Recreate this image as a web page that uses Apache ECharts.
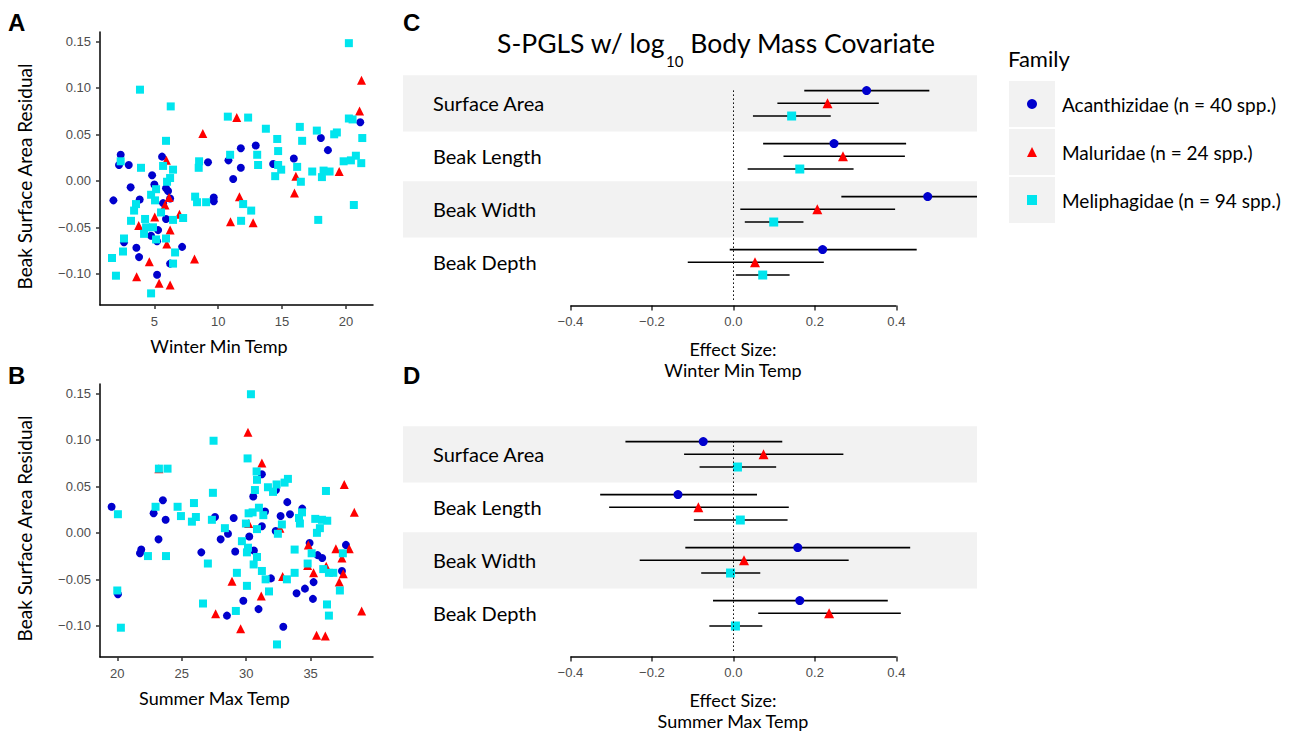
<!DOCTYPE html>
<html>
<head>
<meta charset="utf-8">
<script src="https://cdn.jsdelivr.net/npm/echarts@6/dist/echarts.min.js"></script>
<style>html,body{margin:0;padding:0;background:#fff}#chart{width:1293px;height:733px}</style>
</head>
<body>
<div id="chart"></div>
<script>
// ---------- DATA ----------
const families = ['Acanthizidae (n = 40 spp.)', 'Maluridae (n = 24 spp.)', 'Meliphagidae (n = 94 spp.)'];
const traits = ['Surface Area', 'Beak Length', 'Beak Width', 'Beak Depth'];
const scatterTicksY = [-0.10, -0.05, 0.00, 0.05, 0.10, 0.15];
const winterTicksX = [5, 10, 15, 20];
const summerTicksX = [20, 25, 30, 35];
const effectTicks = [-0.4, -0.2, 0.0, 0.2, 0.4];

// Panel A: winter min temp vs residual
const winterAca = [[2.36,0.028],[2.23,0.017],[2.99,0.017],[5.60,0.026],[4.82,0.006],[5.00,-0.004],[3.14,-0.007],[3.85,-0.020],[1.79,-0.021],[5.91,-0.008],[6.07,-0.011],[6.23,-0.019],[5.68,-0.024],[5.91,-0.041],[5.29,-0.053],[4.74,-0.059],[5.21,-0.065],[2.62,-0.066],[3.59,-0.072],[3.80,-0.082],[7.17,-0.071],[6.23,-0.089],[5.21,-0.101],[9.20,0.020],[9.65,-0.018],[9.65,-0.022],[10.80,0.022],[11.77,0.035],[11.77,0.014],[11.17,0.002],[12.94,0.038],[14.30,0.018],[15.92,0.024],[18.04,0.046],[18.59,0.033],[21.12,0.063]];
const winterMal = [[21.22,0.108],[21.07,0.075],[11.45,0.068],[8.79,0.051],[5.94,0.022],[6.15,-0.018],[5.83,-0.026],[6.96,-0.036],[5.03,-0.039],[3.77,-0.048],[6.23,-0.053],[5.97,-0.068],[4.60,-0.087],[8.14,-0.084],[3.61,-0.103],[5.37,-0.110],[6.23,-0.112],[11.66,-0.017],[10.96,-0.044],[12.73,-0.045],[15.97,-0.013],[16.08,0.005],[19.47,0.010]];
const winterMel = [[20.23,0.148],[3.87,0.098],[6.28,0.080],[5.91,0.043],[10.75,0.069],[12.34,0.068],[13.73,0.056],[16.39,0.058],[17.72,0.054],[19.29,0.052],[19.08,0.050],[20.23,0.067],[20.52,0.066],[21.28,0.046],[14.62,0.045],[16.57,0.043],[14.69,0.032],[10.93,0.028],[13.05,0.028],[13.12,0.017],[8.50,0.021],[8.47,0.014],[2.36,0.021],[3.95,0.014],[5.68,0.016],[6.46,0.012],[14.69,0.017],[14.93,0.012],[14.46,0.005],[16.18,0.015],[17.36,0.010],[18.25,0.011],[18.12,0.004],[18.72,0.010],[19.82,0.021],[20.39,0.022],[20.78,0.027],[21.20,0.019],[16.47,-0.001],[6.23,0.003],[5.99,-0.001],[5.13,-0.009],[4.74,-0.015],[5.05,-0.021],[8.19,-0.017],[8.34,-0.023],[9.05,-0.023],[11.95,-0.025],[12.58,-0.032],[3.56,-0.025],[3.41,-0.032],[5.52,-0.034],[6.46,-0.042],[7.25,-0.040],[4.27,-0.041],[3.17,-0.043],[4.35,-0.050],[4.89,-0.050],[4.19,-0.057],[5.13,-0.063],[5.91,-0.062],[2.62,-0.062],[2.54,-0.076],[6.62,-0.077],[6.46,-0.089],[1.68,-0.083],[1.99,-0.102],[4.74,-0.121],[11.79,-0.043],[17.83,-0.042],[20.62,-0.026]];

// Panel B: summer max temp vs residual
const summerAca = [[19.56,0.028],[20.05,-0.066],[21.86,-0.018],[21.76,-0.022],[22.82,0.021],[23.54,0.035],[23.75,0.014],[23.20,-0.007],[26.52,-0.021],[27.58,0.017],[28.02,-0.007],[28.59,-0.001],[29.03,0.016],[29.15,-0.020],[29.78,-0.073],[28.51,-0.089],[30.24,-0.004],[30.60,-0.019],[30.55,0.039],[31.22,0.063],[31.46,0.023],[31.22,0.007],[32.31,0.046],[32.29,0.002],[32.67,0.018],[33.40,0.020],[33.19,0.033],[34.35,0.026],[31.92,-0.049],[30.96,-0.082],[32.88,-0.101],[33.91,-0.065],[34.56,-0.060],[35.23,-0.053],[35.18,-0.071],[34.92,-0.011],[35.54,-0.024],[35.90,-0.027],[37.43,-0.041],[37.74,-0.013]];
const summerMal = [[30.14,0.108],[31.22,0.075],[23.23,0.069],[37.61,0.052],[38.39,0.022],[30.19,0.010],[32.62,0.005],[34.82,-0.013],[36.96,-0.017],[38.00,-0.017],[37.43,-0.027],[34.77,-0.035],[35.23,-0.043],[36.21,-0.036],[37.53,-0.044],[37.22,-0.053],[32.83,-0.047],[28.90,-0.052],[31.17,-0.068],[27.63,-0.087],[29.57,-0.103],[35.46,-0.110],[36.14,-0.111],[38.96,-0.084]];
const summerMel = [[30.37,0.149],[27.47,0.099],[30.11,0.080],[23.23,0.069],[23.90,0.069],[30.81,0.066],[30.84,0.057],[33.24,0.058],[32.98,0.054],[32.36,0.052],[31.69,0.049],[32.08,0.044],[30.68,0.046],[36.19,0.045],[27.42,0.043],[25.95,0.032],[22.97,0.028],[24.68,0.028],[24.94,0.018],[26.10,0.017],[25.79,0.012],[20.05,0.020],[27.34,0.014],[28.35,0.005],[30.19,0.021],[30.50,0.022],[30.99,0.027],[31.33,0.019],[29.98,0.010],[30.84,0.004],[32.46,-0.001],[32.77,0.009],[34.10,0.016],[34.33,0.022],[34.17,0.010],[35.36,0.015],[35.88,0.014],[36.29,0.013],[35.72,0.005],[35.49,0.000],[29.67,-0.009],[30.14,-0.016],[30.06,-0.021],[30.84,-0.026],[30.58,-0.034],[31.22,-0.041],[31.51,-0.050],[31.77,-0.063],[29.28,-0.043],[30.06,-0.057],[27.03,-0.033],[26.65,-0.076],[29.20,-0.084],[22.38,-0.025],[23.78,-0.025],[20.00,-0.062],[20.28,-0.102],[32.39,-0.120],[33.76,-0.018],[33.76,-0.043],[33.16,-0.050],[34.77,-0.033],[35.08,-0.022],[35.98,-0.039],[36.42,-0.043],[36.76,-0.043],[37.50,-0.022],[37.27,-0.062],[36.27,-0.077],[36.42,-0.089]];

// Panel C: effect sizes, winter min temp (order = traits)
const winterAcaEst = [0.327, 0.247, 0.477, 0.219];
const winterAcaLo  = [0.174, 0.073, 0.265, -0.009];
const winterAcaHi  = [0.481, 0.424, 0.689, 0.450];
const winterMalEst = [0.231, 0.269, 0.206, 0.053];
const winterMalLo  = [0.108, 0.123, 0.017, -0.112];
const winterMalHi  = [0.357, 0.421, 0.397, 0.222];
const winterMelEst = [0.143, 0.163, 0.099, 0.072];
const winterMelLo  = [0.048, 0.035, 0.028, 0.006];
const winterMelHi  = [0.239, 0.295, 0.172, 0.138];

// Panel D: effect sizes, summer max temp
const summerAcaEst = [-0.074, -0.136, 0.158, 0.163];
const summerAcaLo  = [-0.265, -0.327, -0.118, -0.050];
const summerAcaHi  = [0.120, 0.058, 0.434, 0.379];
const summerMalEst = [0.074, -0.086, 0.026, 0.235];
const summerMalLo  = [-0.121, -0.305, -0.230, 0.061];
const summerMalHi  = [0.270, 0.136, 0.283, 0.411];
const summerMelEst = [0.010, 0.017, -0.007, 0.005];
const summerMelLo  = [-0.083, -0.097, -0.079, -0.059];
const summerMelHi  = [0.105, 0.133, 0.066, 0.071];

// ---------- STYLE ----------
const colors = ['#0000CD', '#FF0000', '#00E5EE'];
const symbols = ['circle', 'triangle', 'rect'];
const scatterSizes = [8, 9, 8];
const forestSizes = [9, 10, 9];
const dodge = [0.24, 0, -0.24];
const TXT = 'Lato';
const TICKF = 'Liberation Sans';

const chart = echarts.init(document.getElementById('chart'), null, {renderer: 'svg'});

const tickLabel = {color: '#4d4d4d', fontFamily: TICKF, fontSize: 13};
const fmt2 = v => (v < -1e-9 ? '\u2212' : '') + Math.abs(v).toFixed(2);
const fmt1 = v => (v < -1e-9 ? '\u2212' : '') + Math.abs(v).toFixed(1);

function scatterX(grid, min, max, ticks, name, shift) {
  return {
    type: 'value', gridIndex: grid, min: min, max: max,
    axisLine: {show: true, onZero: false, lineStyle: {color: '#000', width: 1.5}},
    axisTick: {show: true, customValues: ticks, length: 4, lineStyle: {color: '#333', width: 1.5}},
    axisLabel: Object.assign({customValues: ticks, margin: 10}, tickLabel),
    splitLine: {show: false},
    name: name, nameLocation: 'middle', nameGap: 32,
    nameTextStyle: {fontFamily: TXT, fontSize: 18, color: '#000', padding: [0, shift, 0, 0]}
  };
}
function scatterY(grid) {
  return {
    type: 'value', gridIndex: grid, min: -0.1335, max: 0.160,
    axisLine: {show: true, onZero: false, lineStyle: {color: '#000', width: 1.5}},
    axisTick: {show: true, customValues: scatterTicksY, length: 4, lineStyle: {color: '#333', width: 1.5}},
    axisLabel: Object.assign({customValues: scatterTicksY, formatter: fmt2, margin: 9}, tickLabel),
    splitLine: {show: false},
    name: 'Beak Surface Area Residual', nameLocation: 'middle', nameGap: 66,
    nameTextStyle: {fontFamily: TXT, fontSize: 19, color: '#000', padding: [0, 16, 0, 0]}
  };
}
function effectX(grid, name) {
  return {
    type: 'value', gridIndex: grid, min: -0.811, max: 0.598,
    axisLine: {show: false, onZero: false},
    axisTick: {show: true, customValues: effectTicks, length: 5, lineStyle: {color: '#333', width: 1.5}},
    axisLabel: Object.assign({customValues: effectTicks, formatter: fmt1, margin: 9}, tickLabel),
    splitLine: {show: false},
    name: name, nameLocation: 'middle', nameGap: 33,
    nameTextStyle: {fontFamily: TXT, fontSize: 18, color: '#000', lineHeight: 21, padding: [0, 0, 0, 86]}
  };
}
function effectY(grid) {
  return {
    type: 'value', gridIndex: grid, min: 0.185, max: 4.6, z: 10,
    axisLine: {show: false, onZero: false}, axisTick: {show: false}, splitLine: {show: false},
    axisLabel: {
      customValues: [4, 3, 2, 1], formatter: v => traits[4 - Math.round(v)],
      inside: true, margin: 30, color: '#000', fontFamily: TXT, fontSize: 20, padding: [4, 0, 0, 0]
    }
  };
}

const series = [];
function addScatter(grid, sets) {
  sets.forEach((d, i) => {
    series.push({
      type: 'scatter', name: families[i], xAxisIndex: grid, yAxisIndex: grid,
      data: d, symbol: symbols[i], symbolSize: scatterSizes[i],
      itemStyle: {color: colors[i], opacity: 1}, z: 3 + i
    });
  });
}
addScatter(0, [winterAca, winterMal, winterMel]);
addScatter(1, [summerAca, summerMal, summerMel]);

function renderBar(params, api) {
  const lo = api.value(0), hi = api.value(1), y = api.value(2);
  const cs = params.coordSys;
  const p1 = api.coord([lo, y]), p2 = api.coord([hi, y]);
  const x1 = Math.max(p1[0], cs.x), x2 = Math.min(p2[0], cs.x + cs.width);
  return {type: 'line', shape: {x1: x1, y1: p1[1], x2: x2, y2: p2[1]},
          style: {stroke: '#000', lineWidth: 1.6}};
}

function addForest(grid, ests, los, his) {
  // frame: shaded rows, zero reference line, ranged axis line
  series.push({
    type: 'scatter', name: 'frame' + grid, xAxisIndex: grid, yAxisIndex: grid, data: [], silent: true, z: 1,
    markArea: {silent: true, itemStyle: {color: '#f2f2f2'},
      data: [[{yAxis: 3.47}, {yAxis: 4.53}], [{yAxis: 1.47}, {yAxis: 2.53}]]},
    markLine: {silent: true, symbol: ['none', 'none'], label: {show: false},
      data: [
        [{coord: [0, 0.29], lineStyle: {color: '#000', width: 1, type: [1.5, 2.5]}}, {coord: [0, 4.29]}],
        [{coord: [effectTicks[0], 0.185], lineStyle: {color: '#000', width: 1.6, type: 'solid'}}, {coord: [effectTicks[effectTicks.length - 1], 0.185]}]
      ]}
  });
  ests.forEach((est, i) => {
    const rowsY = [4, 3, 2, 1].map(r => r + dodge[i]);
    series.push({
      type: 'custom', name: families[i], xAxisIndex: grid, yAxisIndex: grid, z: 2,
      renderItem: renderBar, encode: {x: [0, 1], y: 2},
      data: los[i].map((lo, k) => [lo, his[i][k], rowsY[k]])
    });
    series.push({
      type: 'scatter', name: families[i], xAxisIndex: grid, yAxisIndex: grid, z: 3,
      symbol: symbols[i], symbolSize: forestSizes[i], itemStyle: {color: colors[i], opacity: 1},
      data: est.map((e, k) => [e, rowsY[k]])
    });
  });
}
addForest(2, [winterAcaEst, winterMalEst, winterMelEst], [winterAcaLo, winterMalLo, winterMelLo], [winterAcaHi, winterMalHi, winterMelHi]);
addForest(3, [summerAcaEst, summerMalEst, summerMelEst], [summerAcaLo, summerMalLo, summerMelLo], [summerAcaHi, summerMalHi, summerMelHi]);

const panelLabel = (t, l, tp) => ({text: t, left: l, top: tp, padding: 0,
  textStyle: {fontFamily: 'Liberation Sans', fontWeight: 'bold', fontSize: 24, color: '#000'}});

const option = {
  animation: false,
  backgroundColor: '#fff',
  title: [
    panelLabel('A', 8, 10), panelLabel('B', 8, 363), panelLabel('C', 403, 10), panelLabel('D', 403, 363),
    {text: '{m|S-PGLS w/ log}{s|10}{m| Body Mass Covariate}', left: 497, top: 29, padding: 0,
     textStyle: {fontWeight: 'normal', rich: {
       m: {fontFamily: TXT, fontSize: 26.5, fontWeight: 'normal', lineHeight: 32, verticalAlign: 'top', color: '#000'},
       s: {fontFamily: TXT, fontSize: 15, fontWeight: 'normal', lineHeight: 15, verticalAlign: 'top', padding: [24, 0, 0, 1], color: '#000'}
     }}},
    {text: 'Family', left: 1008, top: 47, padding: 0,
     textStyle: {fontFamily: TXT, fontSize: 22, fontWeight: 'normal', color: '#000'}}
  ],
  legend: {
    orient: 'vertical', left: 1027, top: 93, padding: 0, itemWidth: 10, itemHeight: 10, itemGap: 26,
    selectedMode: false,
    data: families.map((f, i) => ({name: f, icon: symbols[i], itemStyle: {color: colors[i]}})),
    textStyle: {fontFamily: TXT, fontSize: 19, color: '#000', lineHeight: 22, padding: [0, 0, 0, 20]}
  },
  graphic: [0, 1, 2].map(i => ({type: 'rect', left: 1009, top: 81 + 48 * i, z: -1,
    shape: {width: 46, height: 46}, style: {fill: '#f2f2f2'}})),
  grid: [
    {left: 100, top: 32, width: 273, height: 273},
    {left: 100, top: 384, width: 273, height: 273},
    {left: 403, top: 71.5, width: 574, height: 234},
    {left: 403, top: 422.5, width: 574, height: 234}
  ],
  xAxis: [
    scatterX(0, 0.74, 22.12, winterTicksX, 'Winter Min Temp', 35),
    scatterX(1, 18.66, 39.84, summerTicksX, 'Summer Max Temp', 44),
    effectX(2, 'Effect Size:\nWinter Min Temp'),
    effectX(3, 'Effect Size:\nSummer Max Temp')
  ],
  yAxis: [scatterY(0), scatterY(1), effectY(2), effectY(3)],
  series: series
};
chart.setOption(option);
</script>
</body>
</html>
